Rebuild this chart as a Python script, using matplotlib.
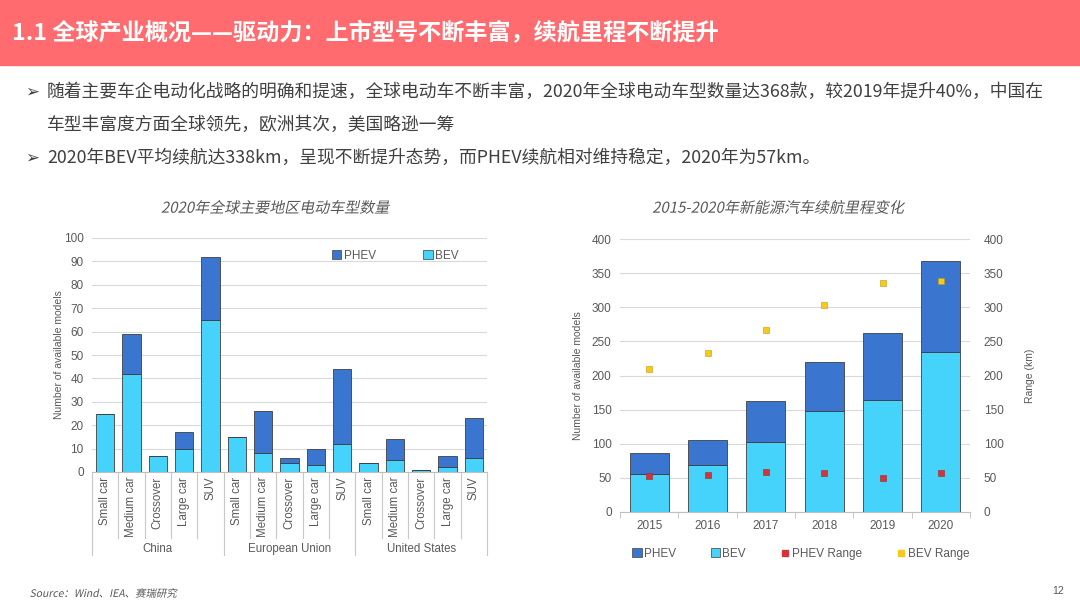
import matplotlib
matplotlib.use("Agg")
import matplotlib.pyplot as plt
from matplotlib.patches import Rectangle, PathPatch
from matplotlib.lines import Line2D
from matplotlib.textpath import TextPath
from matplotlib.font_manager import FontProperties
from matplotlib.transforms import Affine2D
import numpy as np

CJK = ["Noto Sans CJK SC", "DejaVu Sans"]
LAT = ["Liberation Sans", "DejaVu Sans"]

# left chart: models by region / segment (2020)
regions = ["China", "European Union", "United States"]
segments = ["Small car", "Medium car", "Crossover", "Large car", "SUV"]
bev_region = [25, 42, 7, 10, 65, 15, 8, 4, 3, 12, 4, 5, 1, 2, 6]
phev_region = [0, 17, 0, 7, 27, 0, 18, 2, 7, 32, 0, 9, 0, 5, 17]

# right chart: models and range by year
years = ["2015", "2016", "2017", "2018", "2019", "2020"]
bev_year = [55, 69, 102, 148, 164, 234]
phev_year = [31, 37, 61, 72, 98, 134]
phev_range = [53, 54, 58, 57, 50, 57]
bev_range = [210, 233, 267, 304, 336, 338]

PHEV_C = "#3a76d0"
BEV_C = "#45d3fb"
EDGE = "#3f3f3f"
GRID = "#d9d9d9"
TXT = "#595959"

W, H = 1080, 608
fig = plt.figure(figsize=(W / 100, H / 100), dpi=100)


def box(x0, y0, x1, y1):
    return [x0 / W, 1 - y1 / H, (x1 - x0) / W, (y1 - y0) / H]


def slanted(x_px, y_px, s, size, color, ha="center"):
    # CJK font has no italic face, so shear the glyph outlines instead
    tp = TextPath((0, 0), s, size=size, prop=FontProperties(family="Noto Sans CJK SC"))
    bb = tp.get_extents()
    k = 100 / 72
    x0 = x_px - bb.width * k / 2 if ha == "center" else x_px
    tr = (Affine2D().translate(-bb.x0, 0).scale(k).skew_deg(12, 0)
          .translate(x0, H - y_px - 0.38 * size * k))
    fig.add_artist(PathPatch(tp, transform=tr, facecolor=color, edgecolor="none"))


# header banner
fig.patches.append(Rectangle((0, 1 - 65 / H), 1, 65 / H, transform=fig.transFigure,
                             color="#ff6b6e", zorder=0))
fig.text(12 / W, 1 - 34 / H, "1.1 全球产业概况——驱动力：上市型号不断丰富，续航里程不断提升",
         family=CJK, fontsize=16.7, fontweight="bold", color="white", va="center")

# bullet points
bullets = [
    (92, "随着主要车企电动化战略的明确和提速，全球电动车不断丰富，2020年全球电动车型数量达368款，较2019年提升40%，中国在", True),
    (125, "车型丰富度方面全球领先，欧洲其次，美国略逊一筹", False),
    (158, "2020年BEV平均续航达338km，呈现不断提升态势，而PHEV续航相对维持稳定，2020年为57km。", True),
]
for y, text, mark in bullets:
    if mark:
        fig.text(25 / W, 1 - y / H, "➢", family=["DejaVu Sans"], fontsize=12,
                 color="#404040", va="center")
    fig.text(47 / W, 1 - y / H, text, family=CJK, fontsize=12.8, color="#404040", va="center")

# chart titles
slanted(275, 207, "2020年全球主要地区电动车型数量", 10.8, TXT)
slanted(778, 207, "2015-2020年新能源汽车续航里程变化", 10.8, TXT)

# ---- left chart ----
ax1 = fig.add_axes(box(92, 238, 487, 472))
x = np.arange(len(bev_region))
ax1.bar(x, bev_region, 0.69, color=BEV_C, edgecolor=EDGE, linewidth=0.6, zorder=3)
ax1.bar(x, phev_region, 0.69, bottom=bev_region, color=PHEV_C, edgecolor=EDGE,
        linewidth=0.6, zorder=3)
ax1.set_xlim(-0.5, len(x) - 0.5)
ax1.set_ylim(0, 100)
ax1.set_yticks(range(0, 101, 10))
ax1.grid(axis="y", color=GRID, linewidth=0.8, zorder=0)
for s in ["top", "right", "left"]:
    ax1.spines[s].set_visible(False)
ax1.spines["bottom"].set_color("#bfbfbf")
ax1.set_xticks([])
ax1.tick_params(axis="y", length=0, labelsize=8.5, labelcolor=TXT, pad=6)
for lab in ax1.get_yticklabels():
    lab.set_family(LAT)
ax1.set_ylabel("Number of available models", family=LAT, fontsize=7.5, color=TXT, labelpad=0)
trans = ax1.get_xaxis_transform()
for i, xi in enumerate(x):
    ax1.text(xi, -0.02, segments[i % len(segments)], rotation=90, ha="center", va="top",
             transform=trans, family=LAT, fontsize=8.3, color=TXT)
for b in np.arange(-0.5, len(x), 1.0):
    low = -0.355 if (b + 0.5) % len(segments) == 0 else -0.282
    ax1.plot([b, b], [0, low], transform=trans, color="#c8c8c8", linewidth=0.8, clip_on=False)
for g, name in enumerate(regions):
    ax1.text(g * len(segments) + 2, -0.33, name, ha="center", va="center", transform=trans,
             family=LAT, fontsize=8.3, color=TXT)
h1 = [Rectangle((0, 0), 1, 1, facecolor=PHEV_C, edgecolor=EDGE, linewidth=0.5),
      Rectangle((0, 0), 1, 1, facecolor=BEV_C, edgecolor=EDGE, linewidth=0.5)]
ax1.legend(h1, ["PHEV", "BEV"], ncol=2, loc="upper right", bbox_to_anchor=(0.955, 0.995),
           frameon=False, prop={"family": LAT, "size": 8.5}, labelcolor=TXT,
           handlelength=0.8, handleheight=0.8, handletextpad=0.2, columnspacing=4.0)

# ---- right chart ----
ax2 = fig.add_axes(box(620, 239, 970, 512))
xy = np.arange(len(years))
ax2.bar(xy, bev_year, 0.67, color=BEV_C, edgecolor=EDGE, linewidth=0.6, zorder=3)
ax2.bar(xy, phev_year, 0.67, bottom=bev_year, color=PHEV_C, edgecolor=EDGE,
        linewidth=0.6, zorder=3)
ax2.set_xlim(-0.5, len(xy) - 0.5)
ax2.set_ylim(0, 400)
ax2.set_yticks(range(0, 401, 50))
ax2.grid(axis="y", color=GRID, linewidth=0.8, zorder=0)
for s in ["top", "right", "left"]:
    ax2.spines[s].set_visible(False)
ax2.spines["bottom"].set_color("#bfbfbf")
ax2.set_xticks(xy, years)
ax2.set_xticks(np.arange(-0.5, len(xy), 1.0), minor=True)
ax2.tick_params(axis="x", which="major", length=0, labelsize=8.5, labelcolor=TXT, pad=6)
ax2.tick_params(axis="x", which="minor", length=4, color="#bfbfbf")
ax2.tick_params(axis="y", length=0, labelsize=8.5, labelcolor=TXT, pad=6)
for lab in ax2.get_xticklabels() + ax2.get_yticklabels():
    lab.set_family(LAT)
ax2.set_ylabel("Number of available models", family=LAT, fontsize=7.5, color=TXT, labelpad=6)

ax3 = ax2.twinx()
ax3.set_ylim(0, 400)
ax3.set_yticks(range(0, 401, 50))
for s in ["top", "right", "left", "bottom"]:
    ax3.spines[s].set_visible(False)
ax3.tick_params(axis="y", length=0, labelsize=8.5, labelcolor=TXT, pad=10)
for lab in ax3.get_yticklabels():
    lab.set_family(LAT)
ax3.set_ylabel("Range (km)", family=LAT, fontsize=7.5, color=TXT, labelpad=15)
ax3.scatter(xy, phev_range, marker="s", s=22, color="#d2343a", edgecolor="#a02828",
            linewidth=0.4, zorder=5)
ax3.scatter(xy, bev_range, marker="s", s=22, color="#f7c91b", edgecolor="#c09a10",
            linewidth=0.4, zorder=5)

h2 = [Rectangle((0, 0), 1, 1, facecolor=PHEV_C, edgecolor=EDGE, linewidth=0.5),
      Rectangle((0, 0), 1, 1, facecolor=BEV_C, edgecolor=EDGE, linewidth=0.5),
      Line2D([], [], marker="s", linestyle="", color="#d2343a", markersize=5),
      Line2D([], [], marker="s", linestyle="", color="#f7c91b", markersize=5)]
fig.legend(h2, ["PHEV", "BEV", "PHEV Range", "BEV Range"], ncol=4, loc="center",
           bbox_to_anchor=(801 / W, 1 - 554 / H), frameon=False,
           prop={"family": LAT, "size": 8.5}, labelcolor=TXT,
           handlelength=0.8, handleheight=0.8, handletextpad=0.2, columnspacing=2.9)

# footer
slanted(30, 593, "Source：Wind、IEA、赛瑞研究", 7.5, "#595959", ha="left")
fig.text(1052 / W, 1 - 591 / H, "12", family=LAT, fontsize=7.5, color="#595959", va="center")

fig.savefig("out.png", dpi=100)
